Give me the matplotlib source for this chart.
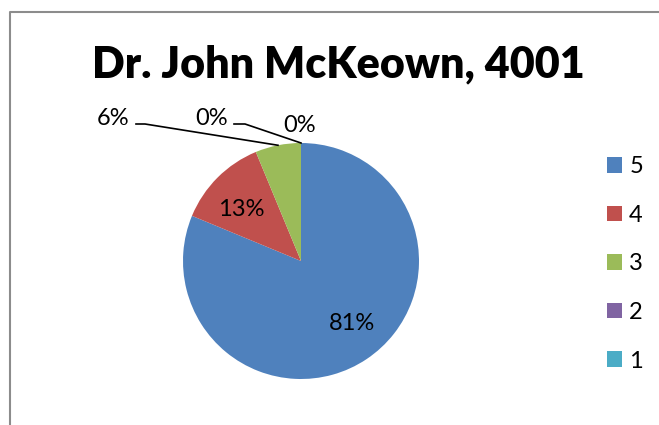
import numpy as np
import matplotlib.pyplot as plt
from matplotlib.patches import Patch

# rating counts, highest rating first (drawn clockwise from 12 o'clock)
ratings = ["5", "4", "3", "2", "1"]
counts = [13, 2, 1, 0, 0]
colors = ["#4F81BD", "#C0504D", "#9BBB59", "#8064A2", "#4BACC6"]
title = "Dr. John McKeown, 4001"

W, H = 659, 425
fig = plt.figure(figsize=(W / 100, H / 100), dpi=100)
ax = fig.add_axes([0, 0, 1, 1])

font = "Lato"
fs = 17

# chart frame (only top and left edges are visible)
ax.plot([9.5, 9.5, W], [0, H - 11.5, H - 11.5], color="#8C8C8C", lw=1.5,
        solid_capstyle="butt")

cx, cy, r = 301, H - 261, 118
ax.pie(counts, colors=colors, startangle=90, counterclock=False,
       center=(cx, cy), radius=r, frame=True,
       wedgeprops=dict(linewidth=0))
ax.set_xlim(0, W)
ax.set_ylim(0, H)
ax.set_aspect("equal")
ax.axis("off")

fig.text(338 / W, 1 - 64 / H, title, ha="center", va="center",
         fontsize=31, fontweight="heavy", family=font)

total = sum(counts)
pcts = [int(c / total * 100 + 0.5) for c in counts]
labels = [f"{p}%" for p in pcts]

# mid-angle of each wedge on the rim (angle measured clockwise from top)
cum = np.cumsum([0] + counts)
mid = [(cum[i] + cum[i + 1]) / 2 / total * 2 * np.pi for i in range(len(counts))]
rim = [(cx + r * np.sin(a), cy + r * np.cos(a)) for a in mid]

# inside labels
ax.text(352, H - 323, labels[0], ha="center", va="center", fontsize=fs, family=font)
ax.text(241, H - 209, labels[1], ha="center", va="center", fontsize=fs, family=font)

# outside labels with leader lines
outside = [(2, 113, 118, 136, 145), (3, 212, 118, 234, 245)]
for i, tx, ty, lx0, lx1 in outside:
    ax.text(tx, H - ty, labels[i], ha="center", va="center", fontsize=fs, family=font)
    ax.plot([lx0, lx1, rim[i][0]], [H - 124, H - 124, rim[i][1]],
            color="black", lw=1.2)
ax.text(300, H - 125, labels[4], ha="center", va="center", fontsize=fs, family=font)

handles = [Patch(facecolor=c, edgecolor="none") for c in colors]
ax.legend(handles, ratings, loc="upper left",
          bbox_to_anchor=(607 / W, 1 - 156 / H), bbox_transform=fig.transFigure,
          frameon=False, prop=dict(family=font, size=fs),
          handlelength=0.64, handleheight=0.64, handletextpad=0.3,
          labelspacing=1.17, borderpad=0, borderaxespad=0)

fig.savefig("out.png", dpi=100)
